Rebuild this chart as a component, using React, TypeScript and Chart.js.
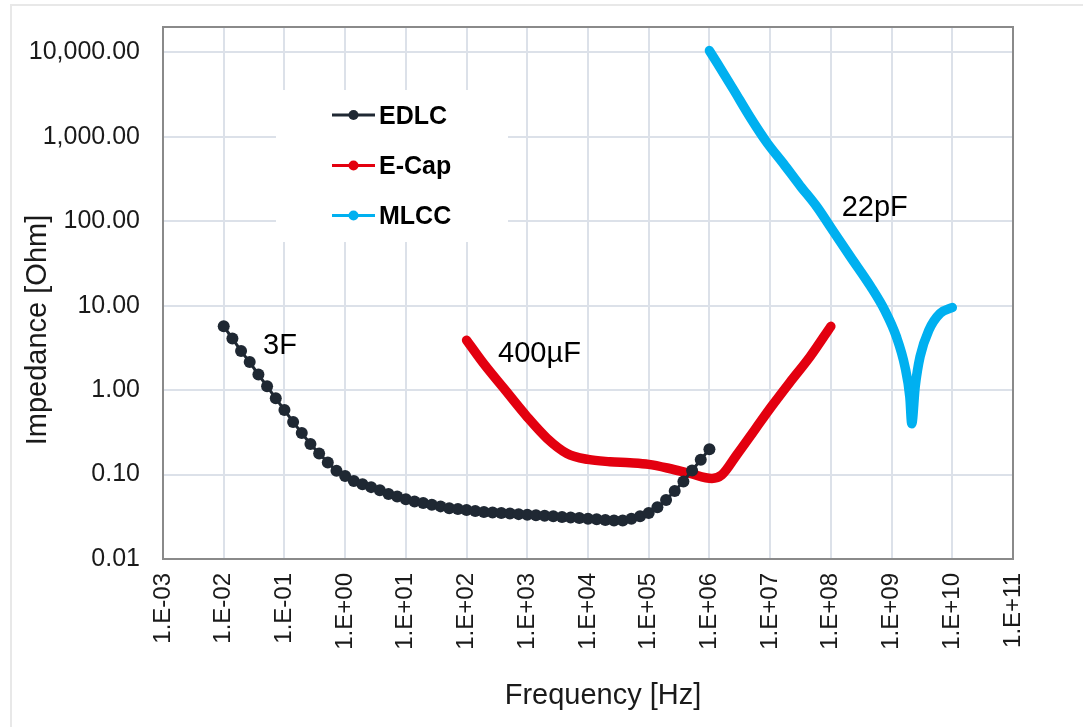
import { useEffect, useRef } from "react";
import { Chart, registerables } from "chart.js";

Chart.register(...registerables);

// EDLC (3F) – measured points, 7 per decade
const EDLC_FREQ = [
  0.01, 0.0139, 0.0193, 0.0268, 0.0373, 0.0518, 0.072,
  0.1, 0.139, 0.193, 0.268, 0.373, 0.518, 0.72,
  1, 1.39, 1.93, 2.68, 3.73, 5.18, 7.2,
  10, 13.9, 19.3, 26.8, 37.3, 51.8, 72,
  100, 139, 193, 268, 373, 518, 720,
  1e3, 1.39e3, 1.93e3, 2.68e3, 3.73e3, 5.18e3, 7.2e3,
  1e4, 1.39e4, 1.93e4, 2.68e4, 3.73e4, 5.18e4, 7.2e4,
  1e5, 1.39e5, 1.93e5, 2.68e5, 3.73e5, 5.18e5, 7.2e5,
  1e6,
];
const EDLC_Z = [
  5.7, 4.1, 2.9, 2.15, 1.53, 1.11, 0.8,
  0.58, 0.42, 0.31, 0.23, 0.178, 0.139, 0.111,
  0.096, 0.084, 0.077, 0.071, 0.065, 0.059, 0.055,
  0.051, 0.048, 0.046, 0.044, 0.042, 0.04, 0.039,
  0.038, 0.037, 0.036, 0.0355, 0.035, 0.0345, 0.034,
  0.0335, 0.033, 0.0325, 0.032, 0.0315, 0.031, 0.0305,
  0.03, 0.0295, 0.029, 0.0285, 0.0285, 0.03, 0.032,
  0.035, 0.041, 0.05, 0.064, 0.083, 0.112, 0.15,
  0.2,
];

// Electrolytic capacitor (400µF)
const ECAP_FREQ = [
  100, 190, 410, 1e3, 2.1e3, 4.5e3, 1e4, 2.3e4, 4.9e4, 1e5,
  2.2e5, 4.8e5, 1.1e6, 1.6e6, 2.8e6, 5.6e6, 1.07e7, 2.1e7, 4.6e7, 1e8,
];
const ECAP_Z = [
  3.9, 2.07, 1.05, 0.48, 0.27, 0.178, 0.151, 0.142, 0.138, 0.132,
  0.118, 0.103, 0.09, 0.099, 0.17, 0.34, 0.65, 1.23, 2.52, 5.7,
];

// MLCC (22pF)
const MLCC_FREQ = [
  1e6, 2.45e6, 4.7e6, 8.7e6, 1.66e7, 3.1e7, 5.9e7, 1e8, 2.1e8, 4.5e8,
  7.8e8, 1.2e9, 1.66e9, 2.0e9, 2.15e9, 2.45e9, 2.95e9, 4.1e9, 6.3e9, 1e10,
];
const MLCC_Z = [
  10500, 3700, 1700, 870, 480, 265, 148, 84, 38, 17,
  8.7, 4.3, 1.9, 0.83, 0.4, 1.1, 2.5, 5.1, 8.1, 9.5,
];

const SERIES_NAMES = ["EDLC", "E-Cap", "MLCC"];
const SERIES_COLORS = ["#1f2833", "#e3000f", "#00b0f0"];

const X_TICKS = [1e-3, 1e-2, 1e-1, 1, 1e1, 1e2, 1e3, 1e4, 1e5, 1e6, 1e7, 1e8, 1e9, 1e10, 1e11];
const X_TICK_LABELS = [
  "1.E-03", "1.E-02", "1.E-01", "1.E+00", "1.E+01", "1.E+02", "1.E+03", "1.E+04",
  "1.E+05", "1.E+06", "1.E+07", "1.E+08", "1.E+09", "1.E+10", "1.E+11",
];
const Y_TICKS = [0.01, 0.1, 1, 10, 100, 1000, 10000];
const Y_TICK_LABELS = ["0.01", "0.10", "1.00", "10.00", "100.00", "1,000.00", "10,000.00"];

// Capacitance notes placed next to each curve (frequency, impedance of text baseline-left)
const NOTE_TEXTS = ["3F", "400µF", "22pF"];
const NOTE_FREQ = [0.0444, 330, 1.51e8];
const NOTE_Z = [2.67, 2.16, 114];

const X_TITLE = "Frequency [Hz]";
const Y_TITLE = "Impedance [Ohm]";

const FONT = "'Liberation Sans', Arial, Helvetica, sans-serif";
const TEXT = "#1a1a1a";
const GRID = "#dce1e9";

const toXY = (fs: number[], zs: number[]) => fs.map((f, i) => ({ x: f, y: zs[i] }));

const decorations = {
  id: "decorations",
  beforeDraw(chart: any) {
    const { ctx, width, height } = chart;
    ctx.save();
    ctx.fillStyle = "#ffffff";
    ctx.fillRect(0, 0, width, height);
    ctx.strokeStyle = "#e8e8e8";
    ctx.lineWidth = 2;
    ctx.beginPath();
    ctx.moveTo(11, height + 5);
    ctx.lineTo(11, 5);
    ctx.lineTo(width + 5, 5);
    ctx.stroke();
    ctx.restore();
  },
  beforeDatasetsDraw(chart: any) {
    const { ctx, chartArea } = chart;
    ctx.save();
    // plot frame
    ctx.strokeStyle = "#8a8a8a";
    ctx.lineWidth = 2;
    ctx.strokeRect(chartArea.left, chartArea.top, chartArea.right - chartArea.left, chartArea.bottom - chartArea.top);
    // legend box
    ctx.fillStyle = "#ffffff";
    ctx.fillRect(276, 90, 232, 152);
    const baselines = [123.5, 174, 224];
    SERIES_NAMES.forEach((name, i) => {
      const cy = baselines[i] - 8.5;
      ctx.strokeStyle = SERIES_COLORS[i];
      ctx.lineWidth = 3;
      ctx.beginPath();
      ctx.moveTo(332, cy);
      ctx.lineTo(375, cy);
      ctx.stroke();
      ctx.fillStyle = SERIES_COLORS[i];
      ctx.beginPath();
      ctx.arc(353.5, cy, 5, 0, Math.PI * 2);
      ctx.fill();
      ctx.fillStyle = "#000000";
      ctx.font = `bold 25px ${FONT}`;
      ctx.textAlign = "left";
      ctx.textBaseline = "alphabetic";
      ctx.fillText(name, 379, baselines[i]);
    });
    ctx.restore();
  },
  afterDatasetsDraw(chart: any) {
    const { ctx, scales } = chart;
    ctx.save();
    ctx.fillStyle = "#000000";
    ctx.font = `29px ${FONT}`;
    ctx.textAlign = "left";
    ctx.textBaseline = "alphabetic";
    NOTE_TEXTS.forEach((t, i) => {
      ctx.fillText(t, scales.x.getPixelForValue(NOTE_FREQ[i]), scales.y.getPixelForValue(NOTE_Z[i]));
    });
    // axis titles
    ctx.fillStyle = TEXT;
    ctx.textAlign = "center";
    ctx.fillText(X_TITLE, 603, 704);
    ctx.translate(46, 330);
    ctx.rotate(-Math.PI / 2);
    ctx.fillText(Y_TITLE, 0, 0);
    ctx.restore();
  },
};

export default function App() {
  const canvasRef = useRef<HTMLCanvasElement | null>(null);

  useEffect(() => {
    if (!canvasRef.current) return;
    const chart = new Chart(canvasRef.current, {
      type: "line",
      data: {
        datasets: [
          {
            label: SERIES_NAMES[0],
            data: toXY(EDLC_FREQ, EDLC_Z),
            borderColor: SERIES_COLORS[0],
            backgroundColor: SERIES_COLORS[0],
            borderWidth: 3,
            pointRadius: 6,
            pointBorderWidth: 0,
            pointBackgroundColor: SERIES_COLORS[0],
            tension: 0,
          },
          {
            label: SERIES_NAMES[1],
            data: toXY(ECAP_FREQ, ECAP_Z),
            borderColor: SERIES_COLORS[1],
            backgroundColor: SERIES_COLORS[1],
            borderWidth: 9.5,
            pointRadius: 0,
            borderCapStyle: "round",
            borderJoinStyle: "round",
            cubicInterpolationMode: "monotone",
          },
          {
            label: SERIES_NAMES[2],
            data: toXY(MLCC_FREQ, MLCC_Z),
            borderColor: SERIES_COLORS[2],
            backgroundColor: SERIES_COLORS[2],
            borderWidth: 9.5,
            pointRadius: 0,
            borderCapStyle: "round",
            borderJoinStyle: "round",
            cubicInterpolationMode: "monotone",
          },
        ],
      },
      options: {
        animation: false,
        responsive: false,
        devicePixelRatio: 1,
        layout: { padding: { left: 0, top: 27, right: 70, bottom: 0 } },
        plugins: {
          legend: { display: false },
          tooltip: { enabled: false },
        },
        scales: {
          x: {
            type: "logarithmic",
            min: 1e-3,
            max: 1e11,
            afterBuildTicks: (s: any) => {
              s.ticks = X_TICKS.map((v) => ({ value: v }));
            },
            afterFit: (s: any) => {
              s.height = 168;
              s.paddingLeft = 0;
              s.paddingRight = 0;
            },
            ticks: {
              autoSkip: false,
              minRotation: 90,
              maxRotation: 90,
              padding: 14,
              color: TEXT,
              font: { family: FONT, size: 24 },
              callback: (_v: any, i: number) => X_TICK_LABELS[i],
            },
            grid: { color: GRID, lineWidth: 2, drawTicks: false },
            border: { display: false },
          },
          y: {
            type: "logarithmic",
            min: 0.01,
            max: 20000,
            afterBuildTicks: (s: any) => {
              s.ticks = Y_TICKS.map((v) => ({ value: v }));
            },
            afterFit: (s: any) => {
              s.width = 163;
              s.paddingTop = 0;
              s.paddingBottom = 0;
            },
            ticks: {
              autoSkip: false,
              padding: 23,
              color: TEXT,
              font: { family: FONT, size: 25 },
              callback: (_v: any, i: number) => Y_TICK_LABELS[i],
            },
            grid: { color: GRID, lineWidth: 2, drawTicks: false },
            border: { display: false },
          },
        },
      },
      plugins: [decorations],
    });
    return () => chart.destroy();
  }, []);

  return (
    <div style={{ position: "absolute", left: 0, top: 0, width: 1083, height: 727, background: "#fff" }}>
      <canvas ref={canvasRef} width={1083} height={727} style={{ display: "block" }} />
    </div>
  );
}
